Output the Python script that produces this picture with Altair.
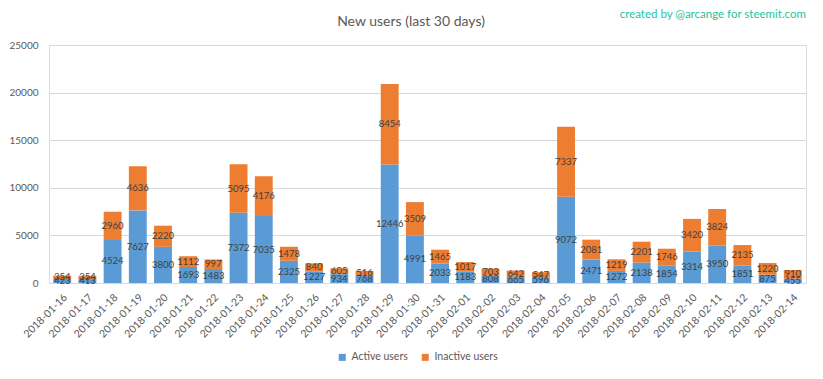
import altair as alt
import pandas as pd

dates = ["2018-01-16", "2018-01-17", "2018-01-18", "2018-01-19", "2018-01-20", "2018-01-21",
         "2018-01-22", "2018-01-23", "2018-01-24", "2018-01-25", "2018-01-26", "2018-01-27",
         "2018-01-28", "2018-01-29", "2018-01-30", "2018-01-31", "2018-02-01", "2018-02-02",
         "2018-02-03", "2018-02-04", "2018-02-05", "2018-02-06", "2018-02-07", "2018-02-08",
         "2018-02-09", "2018-02-10", "2018-02-11", "2018-02-12", "2018-02-13", "2018-02-14"]
active = [423, 413, 4524, 7627, 3800, 1693, 1483, 7372, 7035, 2325, 1227, 934, 768, 12446, 4991,
          2033, 1183, 808, 665, 596, 9072, 2471, 1272, 2138, 1854, 3314, 3950, 1851, 875, 455]
inactive = [354, 354, 2960, 4636, 2220, 1112, 997, 5095, 4176, 1478, 840, 605, 516, 8454, 3509,
            1465, 1017, 703, 642, 547, 7337, 2081, 1219, 2201, 1746, 3420, 3824, 2135, 1220, 910]
series = ["Active users", "Inactive users"]
y_ticks = [0, 5000, 10000, 15000, 20000, 25000]
title_text = "New users (last 30 days)"
credit_text = "created by @arcange for steemit.com"

rows = []
for d, a, i in zip(dates, active, inactive):
    rows.append({"date": d, "series": series[0], "value": a, "ord": 0, "mid": a / 2})
    rows.append({"date": d, "series": series[1], "value": i, "ord": 1, "mid": a + i / 2})
df = pd.DataFrame(rows)

FONT = "Lato"
GREY = "#595959"

xscale = alt.Scale(paddingInner=0.29, paddingOuter=0.17)
x = alt.X("date:N", sort=dates, scale=xscale,
          axis=alt.Axis(title=None, labelAngle=-45, labelFontSize=10.5, labelColor=GREY,
                        labelFont=FONT, ticks=False, domainColor="#d9d9d9", labelPadding=9))
y = alt.Y("value:Q", stack="zero", scale=alt.Scale(domain=[0, 25000], nice=False),
          axis=alt.Axis(values=y_ticks, title=None, domain=False, ticks=False,
                        gridColor="#d9d9d9", labelFontSize=10, labelColor=GREY,
                        labelFont=FONT, labelPadding=11, format="d"))

color = alt.Color("series:N",
                  scale=alt.Scale(domain=series, range=["#5B9BD5", "#ED7D31"]),
                  legend=alt.Legend(orient="none", legendX=288, legendY=307, direction="horizontal",
                                    title=None, symbolType="square", symbolSize=49,
                                    symbolStrokeWidth=0, labelFontSize=10.5, labelColor=GREY,
                                    labelFont=FONT, columnPadding=12, labelOffset=4, padding=0))

bars = alt.Chart(df).mark_bar().encode(x=x, y=y, color=color, order=alt.Order("ord:Q"))

labels = alt.Chart(df).mark_text(fontSize=9.5, color="#404040", font=FONT).encode(
    x=alt.X("date:N", sort=dates, scale=xscale),
    y=alt.Y("mid:Q"),
    text=alt.Text("value:Q", format="d"),
)

title = alt.Chart(pd.DataFrame({"t": [title_text]})).mark_text(
    fontSize=14, color=GREY, font=FONT, baseline="middle", align="center"
).encode(text="t:N", x=alt.value(362), y=alt.value(-23))

credit = alt.Chart(pd.DataFrame({"t": [credit_text]})).mark_text(
    fontSize=11.5, color="#22C49E", font=FONT, baseline="middle", align="right"
).encode(text="t:N", x=alt.value(757), y=alt.value(-30))

chart = alt.layer(bars, labels, title, credit).properties(
    width=757, height=238,
    autosize=alt.AutoSizeParams(type="none"),
    padding={"left": 41, "top": 37, "right": 9, "bottom": 80},
).configure_view(stroke=None).configure(background="white")

chart.save("out.html", embed_options={"renderer": "svg", "actions": False})
